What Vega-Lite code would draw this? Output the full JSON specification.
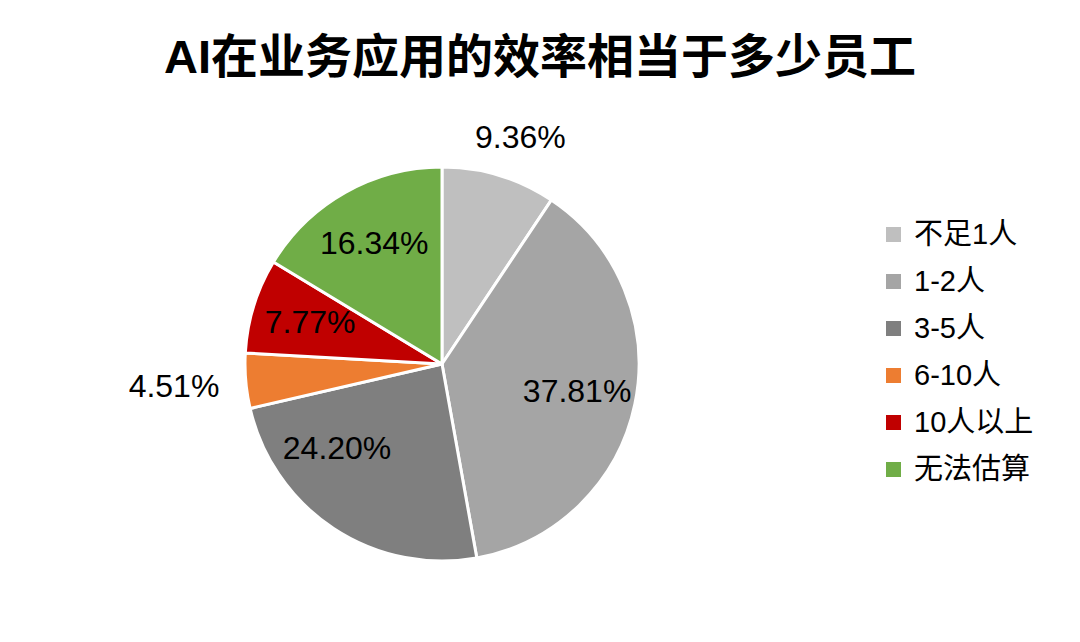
{
  "$schema": "https://vega.github.io/schema/vega-lite/v6.json",
  "autosize": "none",
  "width": 884,
  "height": 520,
  "padding": {"left": 0, "top": 104, "right": 196, "bottom": 18},
  "background": "white",
  "title": {
    "text": "AI在业务应用的效率相当于多少员工",
    "font": "Liberation Sans, Noto Sans CJK SC",
    "fontSize": 47,
    "fontWeight": "bold",
    "color": "black",
    "anchor": "middle",
    "dx": 98,
    "offset": 8
  },
  "data": {
    "values": [
      {"idx": 1, "group": "不足1人", "share": 0.0936},
      {"idx": 2, "group": "1-2人", "share": 0.3781},
      {"idx": 3, "group": "3-5人", "share": 0.2420},
      {"idx": 4, "group": "6-10人", "share": 0.0451},
      {"idx": 5, "group": "10人以上", "share": 0.0777},
      {"idx": 6, "group": "无法估算", "share": 0.1634}
    ]
  },
  "encoding": {
    "theta": {"field": "share", "type": "quantitative", "stack": true},
    "order": {"field": "idx", "type": "quantitative"}
  },
  "layer": [
    {
      "mark": {"type": "arc", "outerRadius": 197, "stroke": "white", "strokeWidth": 3},
      "encoding": {
        "color": {
          "field": "group",
          "type": "nominal",
          "sort": null,
          "scale": {
            "domain": ["不足1人", "1-2人", "3-5人", "6-10人", "10人以上", "无法估算"],
            "range": ["#bfbfbf", "#a5a5a5", "#7f7f7f", "#ed7d31", "#c00000", "#70ad47"]
          },
          "legend": {
            "title": null,
            "orient": "none",
            "legendX": 879,
            "legendY": 116,
            "padding": 0,
            "symbolType": "square",
            "symbolSize": 225,
            "symbolStrokeWidth": 0,
            "labelFont": "Liberation Sans, Noto Sans CJK SC",
            "labelFontSize": 29,
            "labelColor": "black",
            "labelOffset": 6,
            "rowPadding": 17
          }
        }
      }
    },
    {
      "mark": {"type": "text", "radius": 138, "font": "Liberation Sans, Noto Sans CJK SC", "fontSize": 32, "color": "black"},
      "encoding": {
        "text": {
          "condition": {"test": "datum.idx == 2 || datum.idx == 5 || datum.idx == 6", "field": "share", "type": "quantitative", "format": ".2%"},
          "value": ""
        }
      }
    },
    {
      "mark": {"type": "text", "radius": 138, "dx": -29, "dy": -30, "font": "Liberation Sans, Noto Sans CJK SC", "fontSize": 32, "color": "black"},
      "encoding": {
        "text": {
          "condition": {"test": "datum.idx == 3", "field": "share", "type": "quantitative", "format": ".2%"},
          "value": ""
        }
      }
    },
    {
      "mark": {"type": "text", "radius": 236, "dx": 10, "font": "Liberation Sans, Noto Sans CJK SC", "fontSize": 32, "color": "black"},
      "encoding": {
        "text": {
          "condition": {"test": "datum.idx == 1", "field": "share", "type": "quantitative", "format": ".2%"},
          "value": ""
        }
      }
    },
    {
      "mark": {"type": "text", "radius": 269, "font": "Liberation Sans, Noto Sans CJK SC", "fontSize": 32, "color": "black"},
      "encoding": {
        "text": {
          "condition": {"test": "datum.idx == 4", "field": "share", "type": "quantitative", "format": ".2%"},
          "value": ""
        }
      }
    }
  ],
  "config": {"view": {"stroke": null}}
}
